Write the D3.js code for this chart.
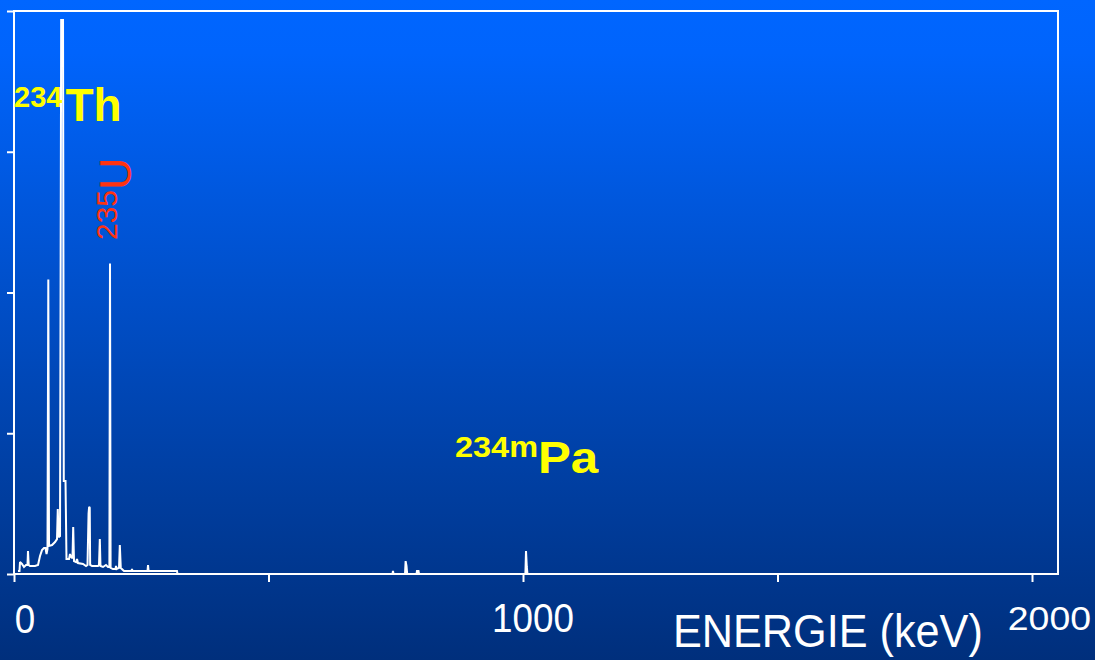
<!DOCTYPE html>
<html>
<head>
<meta charset="utf-8">
<script src="https://cdn.jsdelivr.net/npm/d3@7"></script>
<style>
  html, body { margin: 0; padding: 0; background: #0050c8; }
  svg { display: block; }
  text { font-family: "Liberation Sans", Arial, Helvetica, sans-serif; }
</style>
</head>
<body>
<div id="chart"></div>
<script>
// ---- data ----
const energies = [7.9, 10.8, 11.8, 15.7, 19.6, 23.6, 26.5, 27.5, 28.9, 31.4, 41.3, 47.2, 51.1, 55.0, 58.9, 61.9, 63.9, 65.8, 67.4, 68.8,
  74.7, 80.6, 84.5, 86.0, 87.6, 90.4, 92.7, 96.3, 97.8, 101.2, 103.1, 108.1, 110.0, 112.0, 114.9, 116.3, 117.9, 121.8, 123.8, 125.7,
  135.6, 141.5, 144.4, 146.5, 147.6, 148.8, 149.6, 153.2, 165.0, 167.0, 168.6, 169.9, 174.9, 180.7, 184.7, 187.4, 188.6, 189.8,
  194.5, 199.4, 200.4, 201.6, 206.3, 207.9, 209.8, 216.1, 230.8, 231.8, 232.8, 262.3, 263.3, 264.4, 320.2, 321.2,
  743.6, 744.6, 745.6, 768.2, 769.4, 771.1, 772.5, 790.8, 791.7, 794.7, 795.7, 1004.7, 1005.9, 1007.5, 1008.8, 2000];
const counts = [21, 21, 85, 71, 50, 64, 64, 163, 64, 57, 57, 64, 128, 170, 184, 184, 142, 177, 2092, 199,
  206, 227, 248, 461, 262, 270, 3936, 3936, 660, 660, 106, 106, 142, 121, 113, 333, 92, 85, 106, 78,
  71, 57, 64, 430, 478, 470, 64, 57, 57, 64, 248, 57, 50, 64, 50, 50, 2206, 43,
  35, 35, 57, 35, 43, 206, 43, 21, 21, 35, 21, 21, 64, 21, 21, 0,
  0, 21, 0, 0, 92, 57, 0, 0, 21, 21, 0, 0, 163, 50, 0, 0];

const xTickValues = [0, 500, 1000, 1500, 2000];
const xLabelValues = [0, 1000, 2000];
const yTickValues = [0, 1000, 2000, 3000, 4000];
const xTitle = "ENERGIE (keV)";
const isoMass = ["234", "235", "234m"];
const isoElement = ["Th", "U", "Pa"];

// ---- drawing ----
const W = 1095, H = 660;
const svg = d3.select("#chart").append("svg").attr("width", W).attr("height", H);

const defs = svg.append("defs");
const grad = defs.append("linearGradient").attr("id", "bg").attr("x1", 0).attr("y1", 0).attr("x2", 0).attr("y2", 1);
grad.append("stop").attr("offset", "0").attr("stop-color", "#0066ff");
grad.append("stop").attr("offset", "0.08").attr("stop-color", "#0064fc");
grad.append("stop").attr("offset", "1").attr("stop-color", "#002f7c");
svg.append("rect").attr("width", W).attr("height", H).attr("fill", "url(#bg)");

const x = d3.scaleLinear().domain([0, 2000]).range([14, 1032]);
const y = d3.scaleLinear().domain([0, 4000]).range([574, 11]);

// frame
svg.append("rect")
  .attr("x", x(0)).attr("y", y(4000))
  .attr("width", 1058 - x(0)).attr("height", y(0) - y(4000))
  .attr("fill", "none").attr("stroke", "#ffffff").attr("stroke-width", 2);

// axes (ticks only)
const gy = svg.append("g").attr("transform", `translate(${x(0)},0)`)
  .call(d3.axisLeft(y).tickValues(yTickValues).tickSize(7).tickFormat(() => ""));
gy.select(".domain").remove();
gy.selectAll("line").attr("stroke", "#ffffff").attr("stroke-width", 2);

const gx = svg.append("g").attr("transform", `translate(0,${y(0)})`)
  .call(d3.axisBottom(x).tickValues(xTickValues).tickSize(8).tickFormat(() => ""));
gx.select(".domain").remove();
gx.selectAll("line").attr("stroke", "#ffffff").attr("stroke-width", 2);

// spectrum
const pts = energies.map((e, i) => [e, counts[i]]);
const line = d3.line().x(d => x(d[0])).y(d => y(d[1]));
svg.append("path").datum(pts)
  .attr("d", line)
  .attr("fill", "none")
  .attr("stroke", "#ffffff")
  .attr("stroke-width", 2)
  .attr("stroke-linejoin", "miter")
  .attr("stroke-miterlimit", 2);

// x labels
const labelCfg = [
  { dx: 11, anchor: "middle", y: 633, fs: 40, sx: 0.92 },
  { dx: 10, anchor: "middle", y: 632, fs: 40, sx: 0.92 },
  { dx: 59, anchor: "end", y: 630, fs: 34, sx: 1.1 }
];
xLabelValues.forEach((v, i) => {
  const c = labelCfg[i];
  svg.append("text")
    .attr("transform", `translate(${x(v) + c.dx},${c.y}) scale(${c.sx},1)`)
    .attr("text-anchor", c.anchor)
    .attr("font-size", c.fs)
    .attr("fill", "#ffffff")
    .text(v);
});

svg.append("text")
  .attr("transform", "translate(673,647) scale(0.92,1)")
  .attr("font-size", 47)
  .attr("fill", "#ffffff")
  .text(xTitle);

// isotope annotations
const th = svg.append("text").attr("transform", "translate(14,121)")
  .attr("fill", "#ffff00").attr("font-weight", "bold");
th.append("tspan").attr("font-size", 29).attr("dy", -14).text(isoMass[0]);
th.append("tspan").attr("font-size", 46).attr("dy", 14).attr("dx", 3).text(isoElement[0]);

const u = svg.append("text").attr("transform", "translate(131,240) rotate(-90)")
  .attr("fill", "#ff3311");
u.append("tspan").attr("font-size", 30).attr("dy", -14).text(isoMass[1]);
u.append("tspan").attr("font-size", 45).attr("dy", 14).text(isoElement[1]);

const pa = svg.append("text").attr("transform", "translate(455,473) scale(1.12,1)")
  .attr("fill", "#ffff00").attr("font-weight", "bold");
pa.append("tspan").attr("font-size", 29).attr("dy", -16).text(isoMass[2]);
pa.append("tspan").attr("font-size", 44).attr("dy", 16).text(isoElement[2]);
</script>
</body>
</html>
